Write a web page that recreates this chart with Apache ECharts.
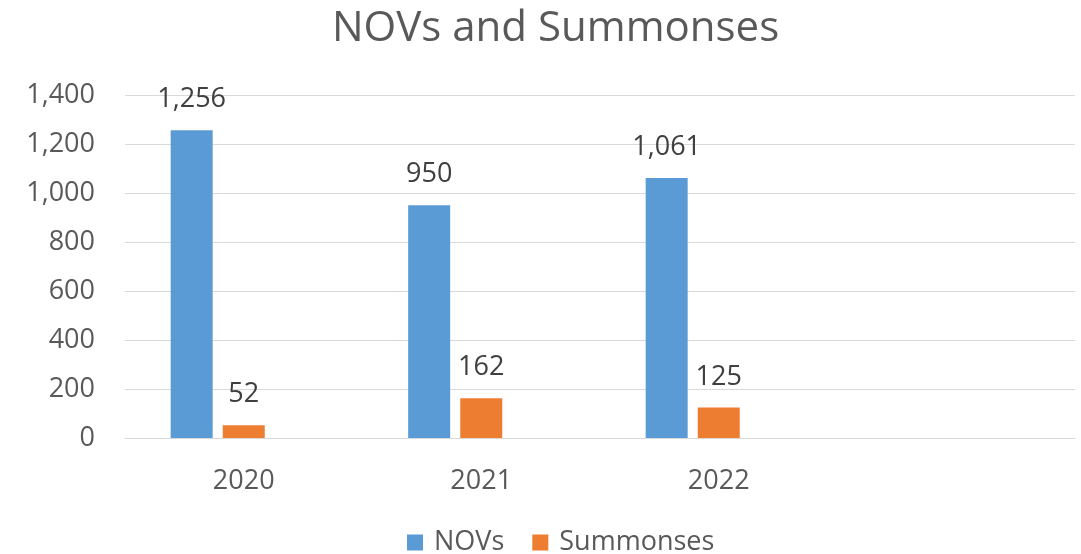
<!DOCTYPE html>
<html>
<head>
<meta charset="utf-8">
<script src="https://cdn.jsdelivr.net/npm/echarts@6/dist/echarts.min.js"></script>
<style>
  html, body { margin: 0; padding: 0; background: #fff; }
  #chart { width: 1081px; height: 554px; }
</style>
</head>
<body>
<div id="chart"></div>
<script>
// chart data
const years = ['2020', '2021', '2022', '']
const novs = [1256, 950, 1061, null]
const summonses = [52, 162, 125, null]
const yTicks = [0, 200, 400, 600, 800, 1000, 1200, 1400]

const font = '"Open Sans", sans-serif'
const chart = echarts.init(document.getElementById('chart'))

const labelStyle = {
  show: true,
  position: 'top',
  distance: 17,
  fontSize: 27,
  color: '#404040',
  fontFamily: font,
  formatter: p => p.value == null ? '' : p.value.toLocaleString('en-US')
}

chart.setOption({
  animation: false,
  title: {
    text: 'NOVs and Summonses',
    left: 332,
    top: 8,
    padding: 0,
    textStyle: { fontSize: 42, fontWeight: 'normal', color: '#595959', fontFamily: font }
  },
  legend: {
    data: ['NOVs', 'Summonses'],
    bottom: -2,
    left: 407,
    padding: 0,
    itemWidth: 16,
    itemHeight: 16,
    itemGap: 28,
    icon: 'rect',
    textStyle: { fontSize: 27, color: '#595959', fontFamily: font, padding: [0, 0, 0, 6] }
  },
  grid: { left: 125, right: 6, top: 95, bottom: 116 },
  xAxis: {
    type: 'category',
    data: years,
    axisLine: { lineStyle: { color: '#d9d9d9' } },
    axisTick: { show: false },
    axisLabel: { fontSize: 27, color: '#595959', margin: 30, fontFamily: font }
  },
  yAxis: {
    type: 'value',
    min: yTicks[0],
    max: yTicks[yTicks.length - 1],
    interval: 200,
    axisLine: { show: false },
    axisTick: { show: false },
    splitLine: { lineStyle: { color: '#d9d9d9' } },
    axisLabel: {
      fontSize: 27, color: '#595959', margin: 30, fontFamily: font,
      formatter: v => v.toLocaleString('en-US')
    }
  },
  series: [
    { name: 'NOVs', type: 'bar', data: novs, barWidth: 42, barGap: '24%',
      itemStyle: { color: '#5B9BD5' }, label: labelStyle },
    { name: 'Summonses', type: 'bar', data: summonses, barWidth: 42, barGap: '24%',
      itemStyle: { color: '#ED7D31' }, label: labelStyle },
    { name: 'blank', type: 'bar', data: [null, null, null, null], barWidth: 42, barGap: '24%' }
  ]
})
</script>
</body>
</html>
